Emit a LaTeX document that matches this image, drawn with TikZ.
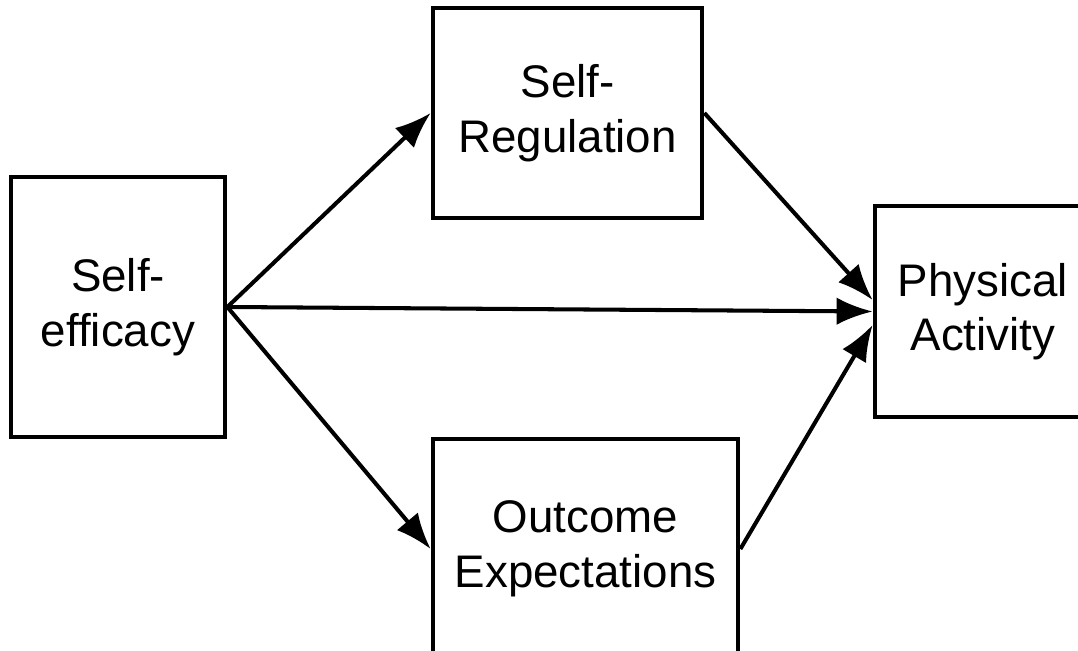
\documentclass[tikz,border=0pt]{standalone}
\usepackage{fontspec}
\setmainfont{Liberation Sans}
\usetikzlibrary{arrows.meta}

\begin{document}
\begin{tikzpicture}[
      box/.style={draw, line width=2.7pt, align=center, inner sep=0pt,
        font=\fontsize{26}{31}\selectfont},
      link/.style={line width=2.3pt, -{Latex[length=0.72cm,width=0.55cm]}}]
      \clip (0,0) rectangle (21.56,13.02);
      \node [box, minimum width=4.28cm, minimum height=5.2cm] (se) at (2.36,6.88) {Self-\\efficacy};
      \node [box, minimum width=5.38cm, minimum height=4.2cm] (sr) at (11.35,10.76) {Self-\\Regulation};
      \node [box, minimum width=6.1cm, minimum height=4.4cm] (oe) at (11.71,2.04) {Outcome\\Expectations};
      \node [box, minimum width=4.32cm, minimum height=4.22cm] (pa) at (19.66,6.79) {Physical\\Activity};
      \draw [link] (se.east) -- (sr.west);
      \draw [link] (se.east) -- (pa.west);
      \draw [link] (se.east) -- (oe.west);
      \draw [link] (sr.east) -- ([yshift=0.23cm]pa.west);
      \draw [link] (oe.east) -- ([yshift=-0.27cm]pa.west);
   \end{tikzpicture}
\end{document}
